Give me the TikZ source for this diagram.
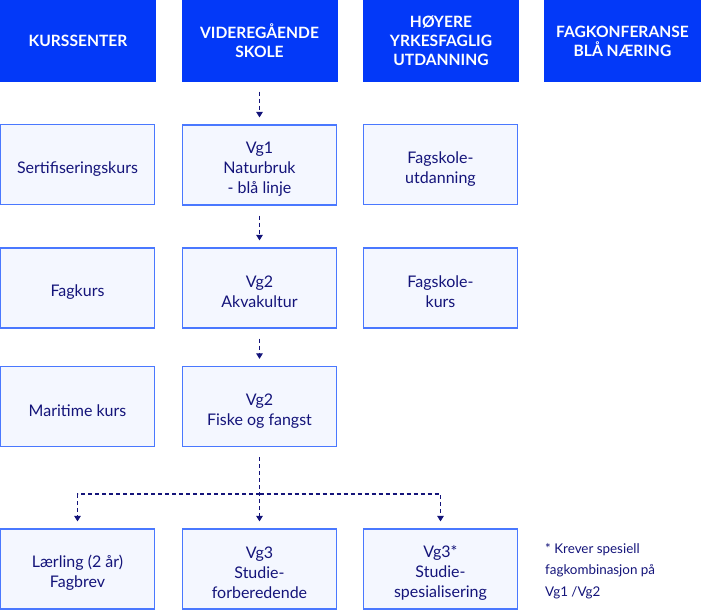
\documentclass[tikz,border=0pt]{standalone}
\usepackage{fontspec}
\setmainfont{Lato}
\usetikzlibrary{arrows.meta}
\definecolor{hdrblue}{HTML}{0339F8}
\definecolor{boxfill}{HTML}{F4F7FF}
\definecolor{boxline}{HTML}{4A78FF}
\definecolor{navy}{HTML}{14147A}
\newcommand\toppad{\rule{0pt}{20pt}}
\tikzset{
  hdr/.style={fill=hdrblue, draw=none, minimum width=156pt, minimum height=81pt, text=white,
    font=\fontsize{15.6}{19}\selectfont\bfseries, align=center, inner sep=0pt},
  cbox/.style={fill=boxfill, draw=boxline, line width=1.2pt, minimum width=154pt, minimum height=80pt,
    text=navy, font=\fontsize{16}{20}\selectfont, align=center, inner sep=0pt},
  arr/.style={draw=navy, line width=1.1pt, dash pattern=on 4pt off 3pt,
    -{Triangle[width=6.5pt,length=5.5pt]}, shorten >=7pt, shorten <=10pt},
}
\begin{document}
\begin{tikzpicture}[x=1pt,y=-1pt]
\useasboundingbox (0,0) rectangle (701,610);
% headers
\node[hdr] (h1) at (78,41) {KURSSENTER};
\node[hdr] (h2) at (259.5,41) {\rule{0pt}{13pt}VIDEREGÅENDE\\SKOLE};
\node[hdr] (h3) at (441,41) {HØYERE\\YRKESFAGLIG\\UTDANNING};
\node[hdr, minimum width=157pt] (h4) at (622.5,41) {\rule{0pt}{13pt}FAGKONFERANSE\\BLÅ NÆRING};
% column 1
\node[cbox] (k1) at (77.5,164.5) {\toppad Sertifiseringskurs};
\node[cbox] (k2) at (77.5,288) {\toppad Fagkurs};
\node[cbox] (k3) at (77.5,406.5) {\toppad Maritime kurs};
\node[cbox] (k4) at (77.5,569) {\toppad Lærling (2 år)\\Fagbrev};
% column 2
\node[cbox] (v1) at (259.5,165) {\toppad Vg1\\Naturbruk\\- blå linje};
\node[cbox] (v2) at (259.5,288) {\toppad Vg2\\Akvakultur};
\node[cbox] (v3) at (259.5,406.5) {\toppad Vg2\\Fiske og fangst};
\node[cbox] (v4) at (259.5,569) {\toppad Vg3\\Studie-\\forberedende};
% column 3
\node[cbox] (f1) at (440.5,164.5) {\toppad Fagskole-\\utdanning};
\node[cbox] (f2) at (440.5,288) {\toppad Fagskole-\\kurs};
\node[cbox] (s4) at (440.5,569) {\toppad Vg3*\\Studie-\\spesialisering};
% footnote
\node[text=navy, font=\fontsize{13.4}{21.5}\selectfont, align=left, anchor=north west, inner sep=0pt] (note) at (545,543)
  {* Krever spesiell\\fagkombinasjon på\\Vg1 /Vg2};
% arrows
\draw[arr] (h2.south) -- (v1.north);
\draw[arr] (v1.south) -- (v2.north);
\draw[arr] (v2.south) -- (v3.north);
\draw[arr] (v3.south) -- (v4.north);
\coordinate (split) at (259.5,494);
\draw[arr, shorten <=0pt] (split) -| (k4.north);
\draw[arr, shorten <=0pt] (split) -| (s4.north);
\end{tikzpicture}
\end{document}
